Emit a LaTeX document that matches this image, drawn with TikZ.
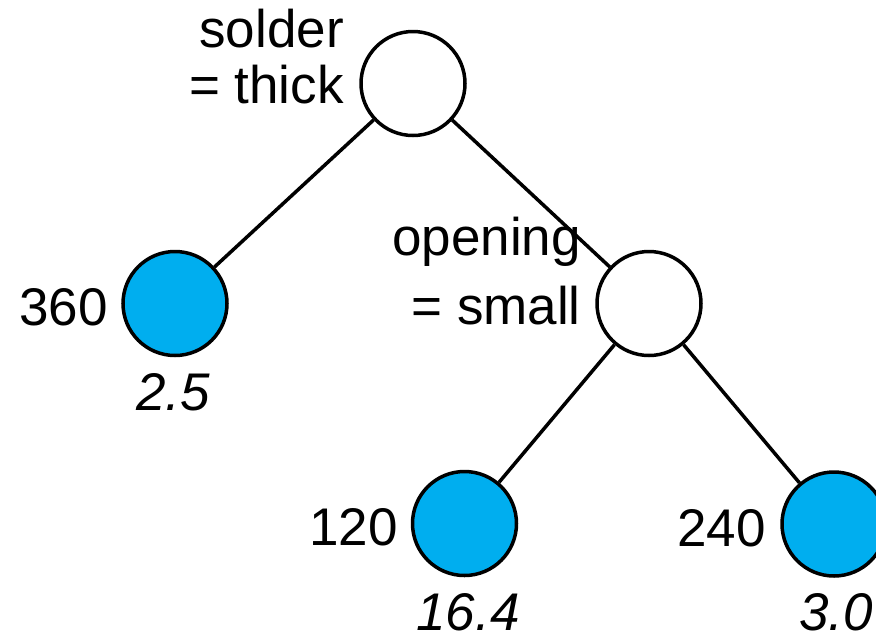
\documentclass[tikz,border=0pt]{standalone}
\usepackage{fontspec}
\setmainfont{Liberation Sans}
\definecolor{leafblue}{RGB}{0,174,239}
\begin{document}
\begin{tikzpicture}[x=1pt,y=-1pt,
  split/.style={circle,draw=black,fill=white,line width=3.5pt,minimum size=104pt,inner sep=0pt},
  leaf/.style={split,fill=leafblue},
  edge/.style={line width=3.5pt},
  lbl/.style={font=\fontsize{53}{56}\selectfont,inner sep=0pt,align=right},
  val/.style={font=\fontsize{53}{56}\selectfont\itshape,inner sep=0pt}]
\useasboundingbox (0,0) rectangle (876,633);
% tree nodes
\node[split] (root) at (413,83.5) {};
\node[leaf]  (l360) at (175,303.5) {};
\node[split] (open) at (649,303.5) {};
\node[leaf]  (l120) at (464.5,523.5) {};
\node[leaf]  (l240) at (834,524) {};
% branches
\draw[edge] (root) -- (l360);
\draw[edge] (root) -- (open);
\draw[edge] (open) -- (l120);
\draw[edge] (open) -- (l240);
% split conditions (anchored on the baseline of the last line)
\node[lbl,anchor=base east] (tsolder) at (344,103) {solder\\= thick};
\node[lbl,anchor=base east] (topen) at (581,324) {opening\\[13pt]= small};
% sample counts
\node[lbl,anchor=base east] (n360) at (108,325) {360};
\node[lbl,anchor=base east] (n120) at (398,545) {120};
\node[lbl,anchor=base east] (n240) at (766,546) {240};
% leaf values
\node[val,anchor=base] (v25) at (173,410) {2.5};
\node[val,anchor=base] (v164) at (468,630) {16.4};
\node[val,anchor=base] (v30) at (836,630) {3.0};
\end{tikzpicture}
\end{document}
